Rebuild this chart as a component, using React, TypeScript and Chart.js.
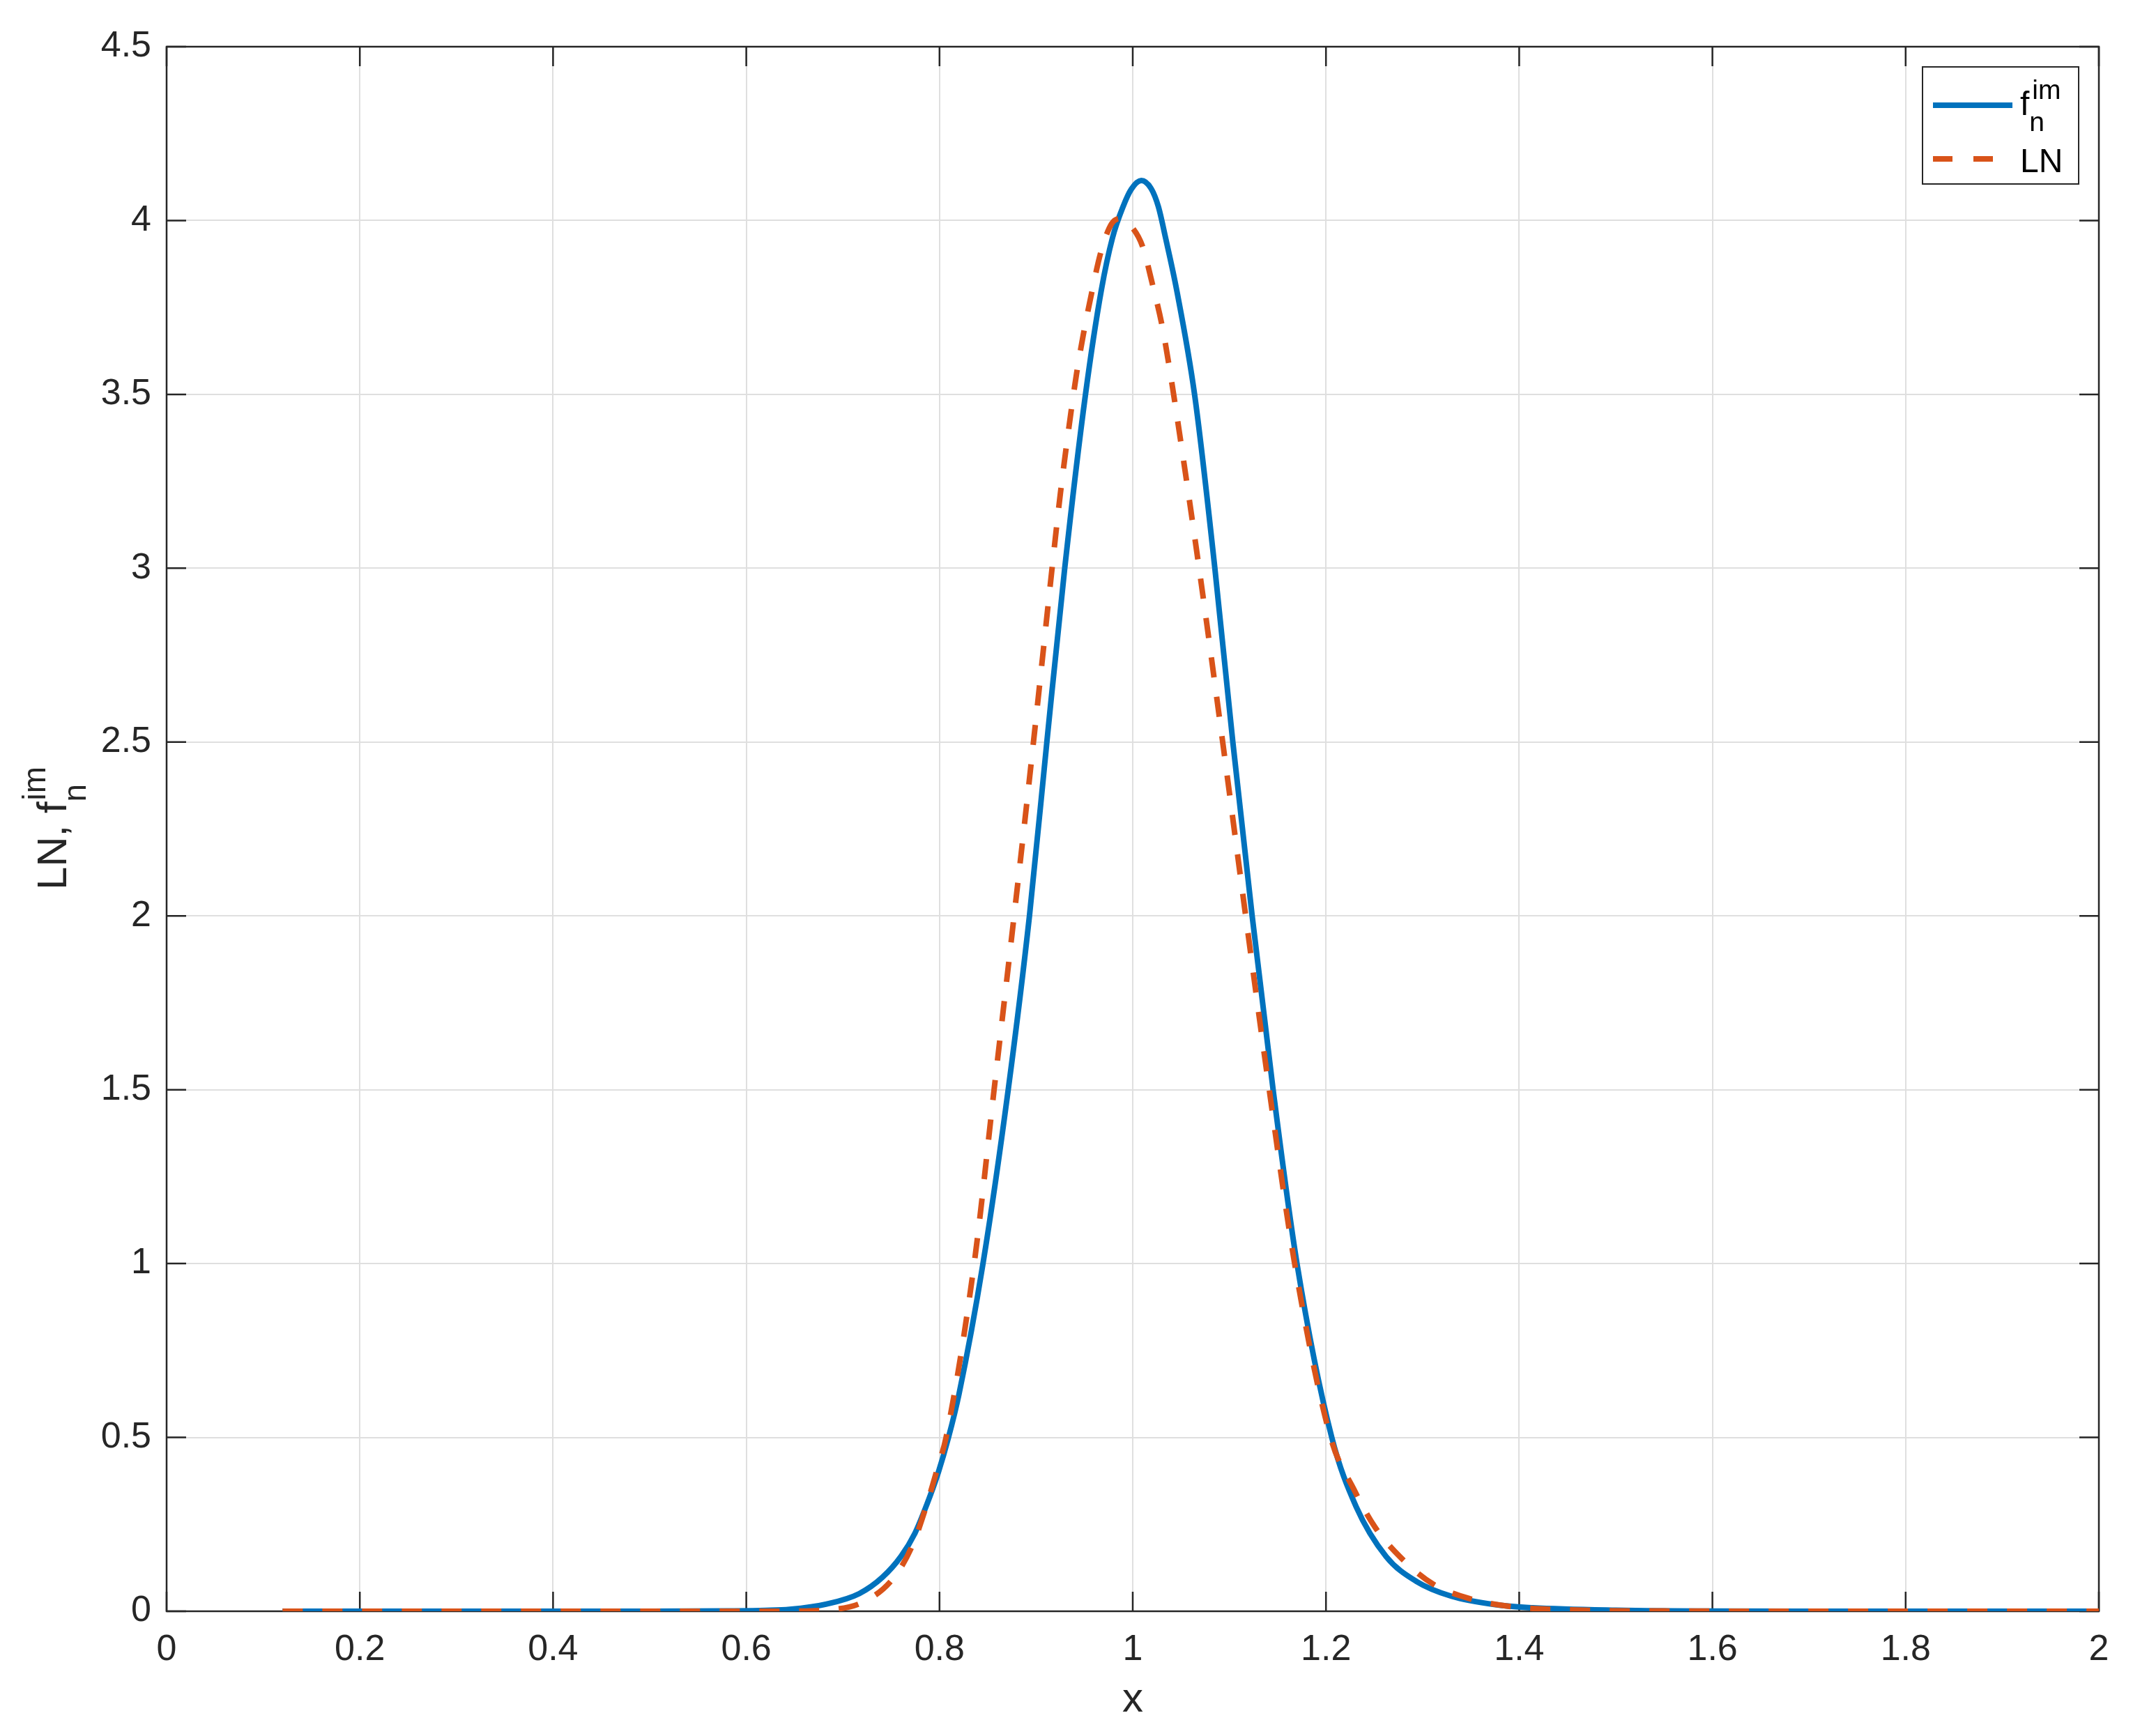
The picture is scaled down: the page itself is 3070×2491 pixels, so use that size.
import React, { useEffect, useRef } from 'react';
import { Chart, registerables } from 'chart.js';

Chart.register(...registerables);

// ---- data ----
const fimX = [0.12, 0.3, 0.5, 0.58, 0.62, 0.6449, 0.6833, 0.7169, 0.7409, 0.7602, 0.7746, 0.7866, 0.7986, 0.8093, 0.8202, 0.845, 0.8711, 0.8931, 0.9111, 0.9296, 0.9511, 0.9675, 0.979, 0.99, 0.9985, 1.0088, 1.019, 1.0265, 1.034, 1.0455, 1.064, 1.085, 1.1036, 1.1236, 1.1453, 1.17, 1.206, 1.2312, 1.2624, 1.2935, 1.33, 1.378, 1.414, 1.5, 1.6, 1.8, 2.0];
const fimY = [0, 0, 0, 0.001, 0.0025, 0.0054, 0.0207, 0.0507, 0.0976, 0.158, 0.2245, 0.305, 0.398, 0.5, 0.625, 1.0, 1.5, 2.0, 2.5, 3.0, 3.5, 3.8, 3.95, 4.04, 4.09, 4.115, 4.092, 4.04, 3.95, 3.8, 3.5, 3.0, 2.5, 2.0, 1.5, 1.0, 0.5, 0.301, 0.157, 0.086, 0.043, 0.018, 0.01, 0.003, 0.0005, 0, 0];

const lnX = [0.12, 0.4, 0.6, 0.65, 0.6785, 0.7217, 0.753, 0.7722, 0.7866, 0.7986, 0.8068, 0.8359, 0.8565, 0.8772, 0.8885, 0.8978, 0.9069, 0.916, 0.9252, 0.936, 0.942, 0.9488, 0.9575, 0.9668, 0.978, 0.988, 0.998, 1.0101, 1.0209, 1.0305, 1.0377, 1.0442, 1.0687, 1.0931, 1.1169, 1.1413, 1.1676, 1.2048, 1.229, 1.2505, 1.2765, 1.3105, 1.349, 1.39, 1.45, 1.55, 1.7, 2.0];
const lnY = [0, 0, 0, 0.0005, 0.0027, 0.0274, 0.0976, 0.191, 0.305, 0.418, 0.5, 1.0, 1.5, 2.0, 2.278, 2.514, 2.75, 2.987, 3.217, 3.447, 3.562, 3.671, 3.792, 3.907, 3.99, 4.006, 3.985, 3.926, 3.811, 3.696, 3.581, 3.466, 3.0, 2.5, 2.0, 1.5, 1.0, 0.5, 0.35, 0.243, 0.157, 0.079, 0.036, 0.014, 0.004, 0.0008, 0, 0];

const xTicks = [0, 0.2, 0.4, 0.6, 0.8, 1, 1.2, 1.4, 1.6, 1.8, 2];
const xTickLabels = ['0', '0.2', '0.4', '0.6', '0.8', '1', '1.2', '1.4', '1.6', '1.8', '2'];
const yTicks = [0, 0.5, 1, 1.5, 2, 2.5, 3, 3.5, 4, 4.5];
const yTickLabels = ['0', '0.5', '1', '1.5', '2', '2.5', '3', '3.5', '4', '4.5'];

const xTitle = 'x';
const yTitleMain = 'LN, f';
const subText = 'n';
const supText = 'im';
const legendMain1 = 'f';
const legendMain2 = 'LN';

// ---- style ----
const W = 3070;
const H = 2491;
const FONT = '"Liberation Sans", Arial, Helvetica, sans-serif';
const BLUE = '#0072BD';
const ORANGE = '#D95319';
const AXIS = '#262626';

const framePlugin = {
  id: 'matlabFrame',
  beforeDatasetsDraw(chart: any) {
    const { ctx, chartArea: a, scales } = chart;
    ctx.save();
    ctx.strokeStyle = AXIS;
    ctx.lineWidth = 2.5;
    ctx.strokeRect(a.left, a.top, a.right - a.left, a.bottom - a.top);
    const tl = 28;
    ctx.beginPath();
    for (const v of xTicks) {
      const px = scales.x.getPixelForValue(v);
      ctx.moveTo(px, a.bottom);
      ctx.lineTo(px, a.bottom - tl);
      ctx.moveTo(px, a.top);
      ctx.lineTo(px, a.top + tl);
    }
    for (const v of yTicks) {
      const py = scales.y.getPixelForValue(v);
      ctx.moveTo(a.left, py);
      ctx.lineTo(a.left + tl, py);
      ctx.moveTo(a.right, py);
      ctx.lineTo(a.right - tl, py);
    }
    ctx.stroke();
    ctx.restore();
  },
  afterDraw(chart: any) {
    const { ctx, chartArea: a } = chart;
    ctx.save();
    // x title
    ctx.fillStyle = AXIS;
    ctx.font = `60px ${FONT}`;
    ctx.textAlign = 'center';
    ctx.textBaseline = 'alphabetic';
    ctx.fillText(xTitle, (a.left + a.right) / 2, a.bottom + 144);

    // y title with sub/superscript
    const mainSize = 60;
    const smallSize = 46;
    ctx.translate(a.left - 144, (a.top + a.bottom) / 2);
    ctx.rotate(-Math.PI / 2);
    ctx.textAlign = 'left';
    ctx.font = `${mainSize}px ${FONT}`;
    const wMain = ctx.measureText(yTitleMain).width;
    ctx.font = `${smallSize}px ${FONT}`;
    const wSub = ctx.measureText(subText).width;
    const wSup = ctx.measureText(supText).width;
    const total = wMain + Math.max(wSub, wSup);
    let sx = -total / 2;
    ctx.font = `${mainSize}px ${FONT}`;
    ctx.fillText(yTitleMain, sx, 0);
    sx += wMain;
    ctx.font = `${smallSize}px ${FONT}`;
    ctx.fillText(subText, sx, 28);
    ctx.fillText(supText, sx + 2, -30);
    ctx.restore();

    // legend
    ctx.save();
    const bw = 224;
    const bh = 168;
    const bx = a.right - 29 - bw;
    const by = a.top + 29;
    ctx.fillStyle = '#ffffff';
    ctx.fillRect(bx, by, bw, bh);
    ctx.strokeStyle = AXIS;
    ctx.lineWidth = 2;
    ctx.strokeRect(bx, by, bw, bh);

    const lx0 = bx + 15;
    const lx1 = bx + 129;
    const y1 = by + 55;
    const y2 = by + 132;
    ctx.lineWidth = 8;
    ctx.strokeStyle = BLUE;
    ctx.beginPath();
    ctx.moveTo(lx0, y1);
    ctx.lineTo(lx1, y1);
    ctx.stroke();
    ctx.strokeStyle = ORANGE;
    ctx.setLineDash([28, 30]);
    ctx.beginPath();
    ctx.moveTo(lx0, y2);
    ctx.lineTo(lx1, y2);
    ctx.stroke();
    ctx.setLineDash([]);

    ctx.fillStyle = '#000000';
    ctx.textAlign = 'left';
    ctx.textBaseline = 'alphabetic';
    const tx = bx + 140;
    ctx.font = `48px ${FONT}`;
    ctx.fillText(legendMain1, tx, by + 69);
    const wf = ctx.measureText(legendMain1).width;
    ctx.font = `39px ${FONT}`;
    ctx.fillText(subText, tx + wf, by + 92);
    ctx.fillText(supText, tx + wf + 4, by + 46);
    ctx.font = `48px ${FONT}`;
    ctx.fillText(legendMain2, tx, by + 151);
    ctx.restore();
  },
};

export default function App() {
  const ref = useRef<HTMLCanvasElement | null>(null);

  useEffect(() => {
    document.body.style.margin = '0';
    const canvas = ref.current;
    if (!canvas) return;
    const chart = new Chart(canvas, {
      type: 'line',
      data: {
        datasets: [
          {
            label: 'LN',
            data: lnX.map((x, i) => ({ x, y: lnY[i] })),
            borderColor: ORANGE,
            backgroundColor: ORANGE,
            borderWidth: 8,
            borderDash: [29, 28],
            pointRadius: 0,
            cubicInterpolationMode: 'monotone',
            fill: false,
            order: 1,
          },
          {
            label: 'fim',
            data: fimX.map((x, i) => ({ x, y: fimY[i] })),
            borderColor: BLUE,
            backgroundColor: BLUE,
            borderWidth: 8,
            pointRadius: 0,
            cubicInterpolationMode: 'monotone',
            fill: false,
            order: 2,
          },
        ],
      },
      options: {
        animation: false,
        responsive: false,
        maintainAspectRatio: false,
        devicePixelRatio: 1,
        layout: { padding: { left: 0, top: 67, right: 59, bottom: 0 } },
        plugins: { legend: { display: false }, tooltip: { enabled: false } },
        scales: {
          x: {
            type: 'linear',
            min: 0,
            max: 2,
            afterFit: (s: any) => {
              s.height = H - 2312;
            },
            afterBuildTicks: (s: any) => {
              s.ticks = xTicks.map((v) => ({ value: v }));
            },
            ticks: {
              callback: (_v: any, i: number) => xTickLabels[i],
              font: { family: FONT, size: 52 },
              color: AXIS,
              padding: 24,
              maxRotation: 0,
              autoSkip: false,
            },
            grid: { color: '#dfdfdf', lineWidth: 2, drawTicks: false },
            border: { display: false },
          },
          y: {
            type: 'linear',
            min: 0,
            max: 4.5,
            afterFit: (s: any) => {
              s.width = 239;
            },
            afterBuildTicks: (s: any) => {
              s.ticks = yTicks.map((v) => ({ value: v }));
            },
            ticks: {
              callback: (_v: any, i: number) => yTickLabels[i],
              font: { family: FONT, size: 52 },
              color: AXIS,
              padding: 22,
              autoSkip: false,
            },
            grid: { color: '#dfdfdf', lineWidth: 2, drawTicks: false },
            border: { display: false },
          },
        },
      },
      plugins: [framePlugin],
    } as any);
    return () => chart.destroy();
  }, []);

  return (
    <div style={{ width: W, height: H, background: '#ffffff' }}>
      <canvas ref={ref} width={W} height={H} style={{ display: 'block', width: W, height: H }} />
    </div>
  );
}
